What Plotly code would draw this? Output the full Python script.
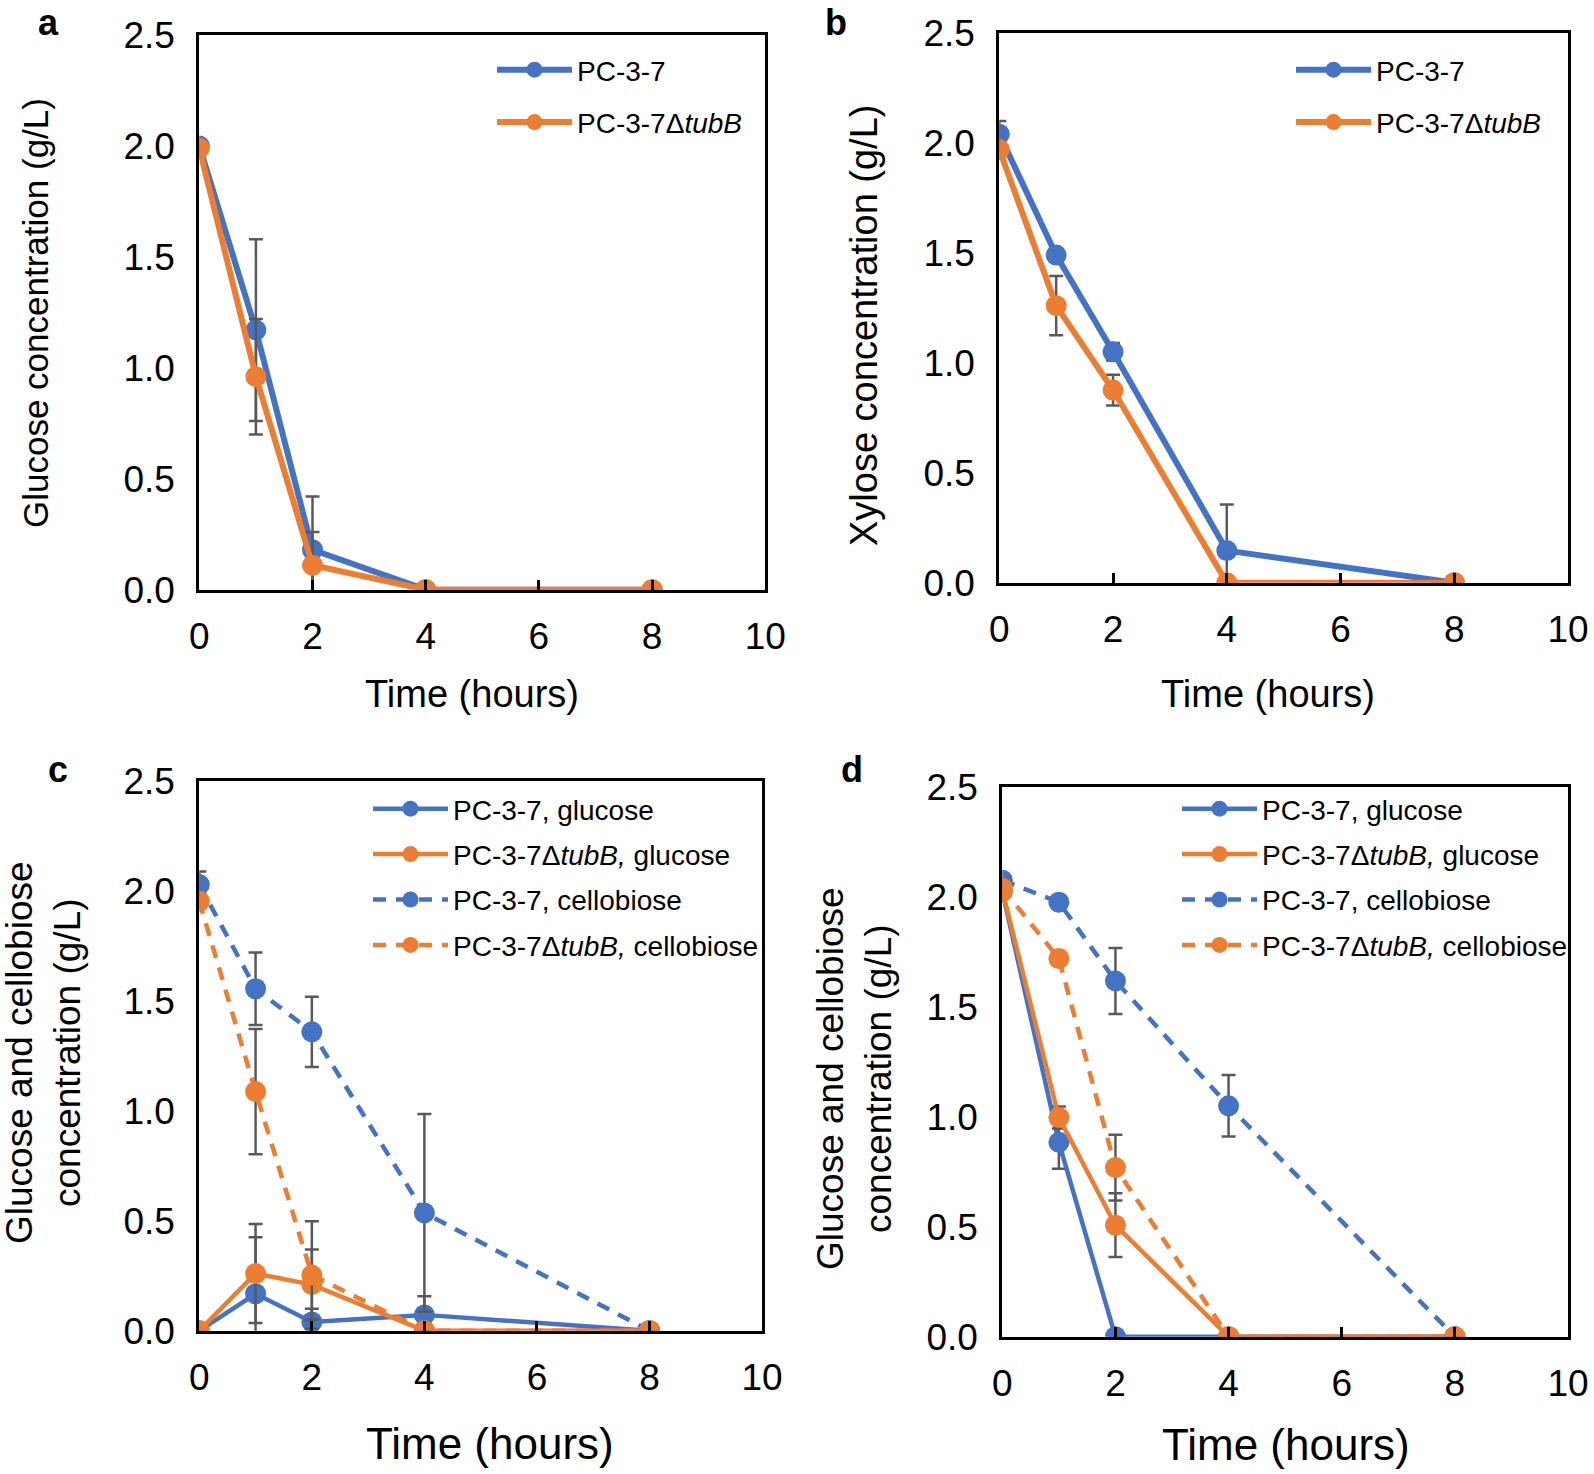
import plotly.graph_objects as go

W, H = 1594, 1474

# ---------------- data ----------------
time = [0, 1, 2, 4, 8]

# panel a: glucose
a_pc = [2.00, 1.17, 0.18, 0.0, 0.0]
a_pc_err = [0.0, 0.41, 0.24, 0.0, 0.0]
a_tub = [1.99, 0.96, 0.11, 0.0, 0.0]
a_tub_err = [0.0, 0.26, 0.15, 0.0, 0.0]

# panel b: xylose
b_pc = [2.04, 1.49, 1.05, 0.146, 0.0]
b_pc_err = [0.06, 0.0, 0.04, 0.21, 0.0]
b_tub = [1.97, 1.26, 0.876, 0.0, 0.0]
b_tub_err = [0.0, 0.135, 0.07, 0.0, 0.0]

# panel c: glucose and cellobiose
c_pc_glc = [0.0, 0.168, 0.04, 0.072, 0.0]
c_pc_glc_err = [0.0, 0.257, 0.06, 0.085, 0.0]
c_tub_glc = [0.0, 0.26, 0.21, 0.0, 0.0]
c_tub_glc_err = [0.0, 0.225, 0.16, 0.0, 0.0]
c_pc_cel = [2.03, 1.556, 1.36, 0.536, 0.0]
c_pc_cel_err = [0.06, 0.165, 0.16, 0.45, 0.0]
c_tub_cel = [1.954, 1.088, 0.253, 0.0, 0.0]
c_tub_cel_err = [0.0, 0.285, 0.245, 0.0, 0.0]

# panel d: glucose and cellobiose
d_pc_glc = [2.025, 0.884, 0.0, 0.0, 0.0]
d_pc_glc_err = [0.0, 0.12, 0.0, 0.0, 0.0]
d_tub_glc = [2.03, 0.997, 0.507, 0.0, 0.0]
d_tub_glc_err = [0.0, 0.05, 0.145, 0.0, 0.0]
d_pc_cel = [2.076, 1.976, 1.618, 1.05, 0.0]
d_pc_cel_err = [0.0, 0.02, 0.15, 0.14, 0.0]
d_tub_cel = [2.04, 1.72, 0.769, 0.0, 0.0]
d_tub_cel_err = [0.0, 0.03, 0.15, 0.0, 0.0]

x_ticks = [0, 2, 4, 6, 8, 10]
y_ticks = [0.0, 0.5, 1.0, 1.5, 2.0, 2.5]

name_pc = "PC-3-7"
name_tub = "PC-3-7Δ<i>tubB</i>"
names_cd = ["PC-3-7, glucose", "PC-3-7Δ<i>tubB,</i> glucose",
            "PC-3-7, cellobiose", "PC-3-7Δ<i>tubB,</i> cellobiose"]

# ---------------- style ----------------
BLUE = "#4472C4"
ORANGE = "#ED7D31"
ERRC = "#595959"
FONT = "Liberation Sans, Arial, sans-serif"

# plot-area boxes in pixels (left, top, right, bottom)
boxes = {
    1: (199.3, 35.0, 765.3, 589.7),
    2: (999.3, 33.0, 1568.0, 582.7),
    3: (199.3, 781.3, 762.0, 1330.7),
    4: (1002.3, 787.0, 1568.0, 1336.7),
}

fig = go.Figure()


def add(panel, y, err, name, color, dash, lw, leg):
    sfx = "" if panel == 1 else str(panel)
    fig.add_trace(go.Scatter(
        x=time, y=y, name=name, mode="lines+markers",
        xaxis="x" + sfx, yaxis="y" + sfx,
        line=dict(color=color, width=lw, dash=dash),
        marker=dict(color=color, size=21),
        error_y=dict(type="data", array=err, visible=True, color=ERRC,
                     thickness=2.5, width=7),
        legend=leg, legendgroup=f"{leg}_{name}", cliponaxis=True,
    ))


add(1, a_pc, a_pc_err, name_pc, BLUE, "solid", 6, "legend")
add(1, a_tub, a_tub_err, name_tub, ORANGE, "solid", 6, "legend")
add(2, b_pc, b_pc_err, name_pc, BLUE, "solid", 6, "legend2")
add(2, b_tub, b_tub_err, name_tub, ORANGE, "solid", 6, "legend2")

add(3, c_pc_glc, c_pc_glc_err, names_cd[0], BLUE, "solid", 4.5, "legend3")
add(3, c_tub_glc, c_tub_glc_err, names_cd[1], ORANGE, "solid", 4.5, "legend3")
add(3, c_pc_cel, c_pc_cel_err, names_cd[2], BLUE, "13px,10px", 4.5, "legend3")
add(3, c_tub_cel, c_tub_cel_err, names_cd[3], ORANGE, "13px,10px", 4.5, "legend3")

add(4, d_pc_glc, d_pc_glc_err, names_cd[0], BLUE, "solid", 4.5, "legend4")
add(4, d_tub_glc, d_tub_glc_err, names_cd[1], ORANGE, "solid", 4.5, "legend4")
add(4, d_pc_cel, d_pc_cel_err, names_cd[2], BLUE, "13px,10px", 4.5, "legend4")
add(4, d_tub_cel, d_tub_cel_err, names_cd[3], ORANGE, "13px,10px", 4.5, "legend4")

layout = dict(
    template="none",
    width=W, height=H, margin=dict(l=0, r=0, t=0, b=0, pad=0, autoexpand=False),
    paper_bgcolor="white", plot_bgcolor="white",
    font=dict(family=FONT, color="black", size=36),
    showlegend=True,
)

for p, (l, t, r, b) in boxes.items():
    sfx = "" if p == 1 else str(p)
    layout["xaxis" + sfx] = dict(
        domain=[l / W, r / W], anchor="y" + sfx, range=[0, 10],
        tickvals=x_ticks, ticks="inside", ticklen=10, tickwidth=2.5,
        tickcolor="black", showline=True, linecolor="black", linewidth=3,
        mirror=True, showgrid=False, zeroline=False, automargin=False,
        tickfont=dict(size=37, family=FONT), ticklabelstandoff=12,
    )
    layout["yaxis" + sfx] = dict(
        domain=[1 - b / H, 1 - t / H], anchor="x" + sfx, range=[0, 2.5],
        tickvals=y_ticks, tickformat=".1f", ticks="",
        showline=True, linecolor="black", linewidth=3,
        mirror=True, showgrid=False, zeroline=False, automargin=False,
        tickfont=dict(size=37, family=FONT), ticklabelstandoff=14,
    )

leg_common = dict(font=dict(size=28, family=FONT), bgcolor="rgba(0,0,0,0)",
                  xanchor="left", yanchor="top", xref="paper", yref="paper",
                  traceorder="grouped", itemwidth=75, itemsizing="trace")
layout["legend"] = dict(leg_common, x=492 / W, y=1 - 45 / H, tracegroupgap=13)
layout["legend2"] = dict(leg_common, x=1291 / W, y=1 - 45 / H, tracegroupgap=13)
layout["legend3"] = dict(leg_common, x=368 / W, y=1 - 784 / H, tracegroupgap=6)
layout["legend4"] = dict(leg_common, x=1177 / W, y=1 - 784 / H, tracegroupgap=6)

ann = []
def text(x, y, s, size, angle=0, bold=False):
    ann.append(dict(x=x / W, y=1 - y / H, xref="paper", yref="paper",
                    text=f"<b>{s}</b>" if bold else s, showarrow=False,
                    textangle=angle, xanchor="center", yanchor="middle",
                    font=dict(size=size, family=FONT, color="black")))

# panel letters
text(48, 22, "a", 36, bold=True)
text(836, 22, "b", 36, bold=True)
text(58, 770, "c", 36, bold=True)
text(852, 770, "d", 36, bold=True)
# x titles
text(472, 694, "Time (hours)", 38)
text(1268, 694, "Time (hours)", 38)
text(490, 1443, "Time (hours)", 44)
text(1286, 1444, "Time (hours)", 44)
# y titles
text(36, 313, "Glucose concentration (g/L)", 35, angle=-90)
text(864, 326, "Xylose concentration (g/L)", 38, angle=-90)
text(43, 1053, "Glucose and cellobiose<br>concentration (g/L)", 37, angle=-90)
text(854, 1079, "Glucose and cellobiose<br>concentration (g/L)", 37, angle=-90)

layout["annotations"] = ann
fig.update_layout(**layout)
fig.write_html("out.html", config={"displayModeBar": False},
               post_script="document.body.style.margin='0';document.body.style.padding='0';")
